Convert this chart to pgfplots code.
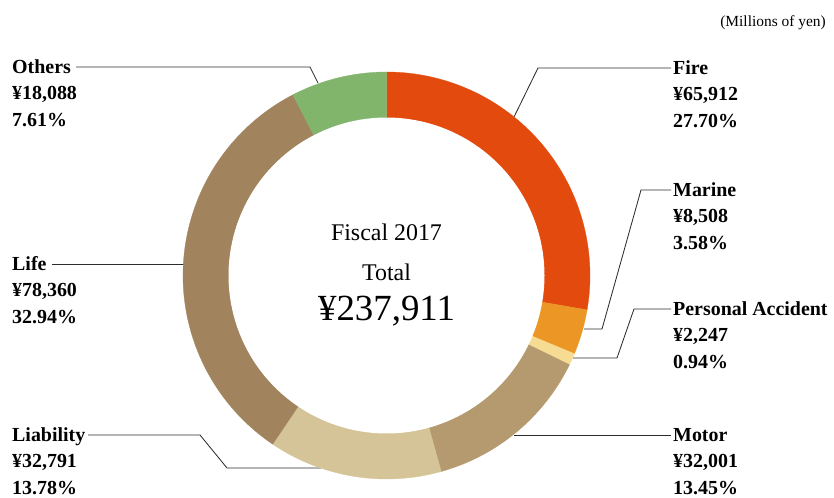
\documentclass[border=0pt]{standalone}
\usepackage{fontspec}
\setmainfont{Liberation Serif}
\usepackage{pgfplots}
\pgfplotsset{compat=1.18}
\usepackage{pgfplotstable}

\definecolor{c0}{RGB}{226,74,14}   % Fire
\definecolor{c1}{RGB}{235,150,37}  % Marine
\definecolor{c2}{RGB}{246,219,146} % Personal Accident
\definecolor{c3}{RGB}{180,154,110} % Motor
\definecolor{c4}{RGB}{213,196,151} % Liability
\definecolor{c5}{RGB}{161,132,94}  % Life
\definecolor{c6}{RGB}{130,181,108} % Others
\definecolor{leader}{RGB}{45,45,45}

\tikzset{lbl/.style={font=\fontsize{20}{24}\selectfont\bfseries, anchor=base west, inner sep=0pt}}

% net premiums written, millions of yen
\pgfplotstableread[col sep=comma]{
sector,value,share
Fire,65912,27.70
Marine,8508,3.58
Personal Accident,2247,0.94
Motor,32001,13.45
Liability,32791,13.78
Life,78360,32.94
Others,18088,7.61
}\premiums

\begin{document}
\begin{tikzpicture}
\begin{axis}[
    at={(0,0)}, anchor=south west,
    scale only axis, width=834bp, height=498bp,
    xmin=0, xmax=834, ymin=0, ymax=498,
    hide axis, clip=false,
]

% leader lines
\draw[leader, line width=0.85pt] (axis cs:76,431) -- (axis cs:310,431) -- (axis cs:318,415);
\draw[leader, line width=0.85pt] (axis cs:52,234) -- (axis cs:184,234);
\draw[leader, line width=0.85pt] (axis cs:88,63) -- (axis cs:200,63) -- (axis cs:227,30) -- (axis cs:321,30);
\draw[leader, line width=0.85pt] (axis cs:671,430) -- (axis cs:538,430) -- (axis cs:514,381);
\draw[leader, line width=0.85pt] (axis cs:671,308) -- (axis cs:641,308) -- (axis cs:602,169) -- (axis cs:584,169);
\draw[leader, line width=0.85pt] (axis cs:671,189) -- (axis cs:634,189) -- (axis cs:617,140) -- (axis cs:573,140);
\draw[leader, line width=0.85pt] (axis cs:671,63) -- (axis cs:514,63);

% donut segments, clockwise from the top
\gdef\cumv{0}
\pgfplotsinvokeforeach{0,...,6}{%
  \pgfplotstablegetelem{#1}{share}\of\premiums
  \pgfmathsetmacro\angA{90-3.6*\cumv}%
  \pgfmathsetmacro\tmp{\cumv+\pgfplotsretval}\xdef\cumv{\tmp}%
  \pgfmathsetmacro\angB{90-3.6*\cumv}%
  \edef\doit{\noexpand\addplot[fill=c#1, draw=c#1, line width=0.3pt, domain=\angB:\angA, samples=90]
    ({386.5+203.5*cos(x)},{222.5+203.5*sin(x)}) -- (axis cs:386.5,222.5) -- cycle;}%
  \doit
}
\addplot[fill=white, draw=none, domain=0:360, samples=160]
    ({386.5+158*cos(x)},{222.5+158*sin(x)}) -- cycle;

% centre text
\node[font=\fontsize{24}{28}\selectfont, anchor=base, inner sep=0pt] at (axis cs:386.5,257) {Fiscal 2017};
\node[font=\fontsize{24}{28}\selectfont, anchor=base, inner sep=0pt] at (axis cs:386.5,217) {Total};
\node[font=\fontsize{37}{40}\selectfont, anchor=base, inner sep=0pt] at (axis cs:386.5,177.5) {¥237,911};

\node[font=\fontsize{15.5}{18}\selectfont, anchor=base east, inner sep=0pt] at (axis cs:826,471) {(Millions of yen)};

% labels, left
\node[lbl] at (axis cs:12,424.5) {Others};
\node[lbl] at (axis cs:12,398) {¥18,088};
\node[lbl] at (axis cs:12,371.5) {7.61\%};
\node[lbl] at (axis cs:12,227.5) {Life};
\node[lbl] at (axis cs:12,201) {¥78,360};
\node[lbl] at (axis cs:12,174.5) {32.94\%};
\node[lbl] at (axis cs:12,56.5) {Liability};
\node[lbl] at (axis cs:12,30) {¥32,791};
\node[lbl] at (axis cs:12,3.5) {13.78\%};
% labels, right
\node[lbl] at (axis cs:673,423.5) {Fire};
\node[lbl] at (axis cs:673,397) {¥65,912};
\node[lbl] at (axis cs:673,370.5) {27.70\%};
\node[lbl] at (axis cs:673,301.5) {Marine};
\node[lbl] at (axis cs:673,275) {¥8,508};
\node[lbl] at (axis cs:673,248.5) {3.58\%};
\node[lbl] at (axis cs:673,182.5) {Personal Accident};
\node[lbl] at (axis cs:673,156) {¥2,247};
\node[lbl] at (axis cs:673,129.5) {0.94\%};
\node[lbl] at (axis cs:673,56.5) {Motor};
\node[lbl] at (axis cs:673,30) {¥32,001};
\node[lbl] at (axis cs:673,3.5) {13.45\%};
\end{axis}
\pgfresetboundingbox
\path (0,0) rectangle (834bp,498bp);
\end{tikzpicture}
\end{document}
